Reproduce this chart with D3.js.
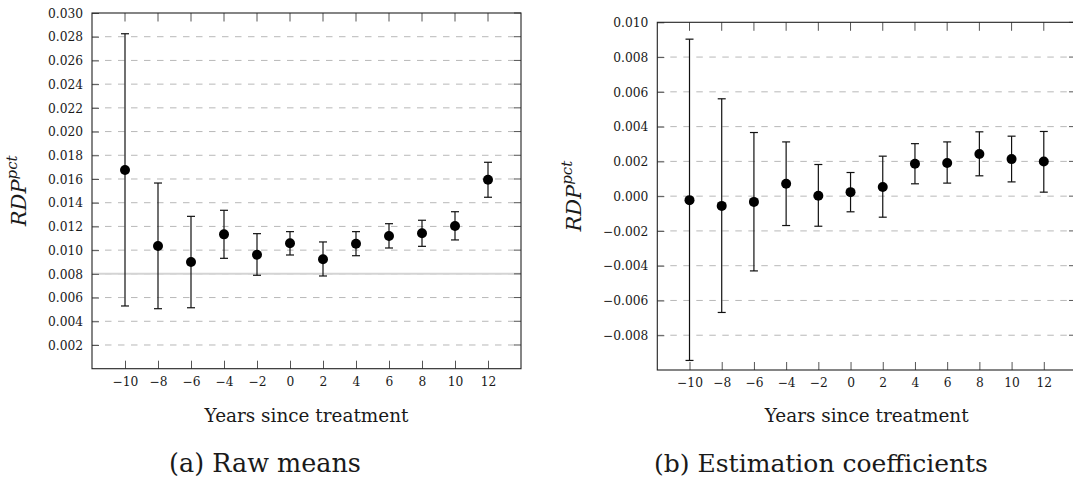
<!DOCTYPE html>
<html>
<head>
<meta charset="utf-8">
<script src="https://cdn.jsdelivr.net/npm/d3@7"></script>
<style>
	body { margin: 0; background: #fff; }
	svg { display: block; }
	text { font-family: "DejaVu Serif", "Liberation Serif", serif; fill: #1a1a1a; }
</style>
</head>
<body>
<div class="canva"></div>
<script>
// years relative to treatment
const years = [-10, -8, -6, -4, -2, 0, 2, 4, 6, 8, 10, 12];

// (a) raw means with intervals
const rawMean = [0.01676, 0.01035, 0.0090, 0.01133, 0.00961, 0.01058, 0.00923, 0.01054, 0.01119, 0.01142, 0.01204, 0.01594];
const rawLow = [0.00529, 0.00506, 0.00514, 0.00931, 0.00788, 0.00959, 0.00782, 0.00953, 0.01018, 0.01032, 0.01086, 0.01446];
const rawHigh = [0.02825, 0.01566, 0.01285, 0.01336, 0.01139, 0.01156, 0.01069, 0.01156, 0.01223, 0.01252, 0.01324, 0.01741];

// (b) estimation coefficients with intervals
const coef = [-0.00023, -0.00056, -0.00033, 0.00071, 0.00002, 0.00023, 0.00053, 0.00186, 0.00191, 0.00242, 0.00213, 0.00199];
const coefLow = [-0.00945, -0.00669, -0.0043, -0.00169, -0.00173, -0.0009, -0.00121, 0.00071, 0.00075, 0.00117, 0.00082, 0.00023];
const coefHigh = [0.00903, 0.0056, 0.00366, 0.00312, 0.00182, 0.00136, 0.0023, 0.00302, 0.00312, 0.0037, 0.00345, 0.00372];

// tick values
const rawTicks = d3.range(1, 16).map((k) => k * 0.002);
const coefTicks = d3.range(-4, 6).map((k) => k * 0.002);
const rawRef = 0.008;

const xLabel = "Years since treatment";
const captions = ["(a) Raw means", "(b) Estimation coefficients"];

const svg = d3.select(".canva")
	.append("svg")
	.attr("width", 1073)
	.attr("height", 485);

// scale a text's font size so it spans the wanted width
function fitSize(text, target) {
	const w = text.node().getComputedTextLength();
	const fs = parseFloat(text.attr("font-size"));
	text.attr("font-size", (fs * target) / w);
}

// tick font size from the width of "0.030"
const probe = svg.append("text").attr("font-size", 20).text("0.030");
fitSize(probe, 35);
const tickSize = +probe.attr("font-size");
probe.remove();

const panels = [
	{
		mean: rawMean, low: rawLow, high: rawHigh, ticks: rawTicks, yDomain: [0, 0.030],
		left: 92, right: 521, top: 13, bottom: 368.7, ref: rawRef,
		ylabX: 26, capX: 265, capW: 192
	},
	{
		mean: coef, low: coefLow, high: coefHigh, ticks: coefTicks, yDomain: [-0.010, 0.010],
		left: 657.3, right: 1076, top: 22.3, bottom: 370, ref: null,
		ylabX: 581, capX: 821, capW: 334
	}
];

const fmtY = (d) => d3.format(".3f")(d).replace("-", "\u2212");
const fmtX = (d) => (d < 0 ? "\u2212" + Math.abs(d) : String(d));

panels.forEach((p, pi) => {
	const x = d3.scaleLinear().domain([-12, 14]).range([p.left, p.right]);
	const y = d3.scaleLinear().domain(p.yDomain).range([p.bottom, p.top]);
	const g = svg.append("g");

	// dashed grid
	g.selectAll(".grid")
		.data(p.ticks.filter((t) => Math.abs(y(t) - p.top) > 1))
		.enter()
		.append("line")
		.attr("x1", p.left).attr("x2", p.right)
		.attr("y1", (d) => y(d)).attr("y2", (d) => y(d))
		.attr("stroke", "#b8b8b8")
		.attr("stroke-width", 1)
		.attr("stroke-dasharray", "6.5,6.5");

	if (p.ref !== null) {
		g.append("line")
			.attr("x1", p.left).attr("x2", p.right)
			.attr("y1", y(p.ref)).attr("y2", y(p.ref))
			.attr("stroke", "#d4d4d4")
			.attr("stroke-width", 2);
	}

	// x axis (bottom) with inward ticks
	const xAxis = d3.axisBottom(x).tickValues(years).tickSizeInner(-8).tickSizeOuter(0).tickPadding(0).tickFormat(fmtX);
	const xa = g.append("g").attr("transform", `translate(0,${p.bottom})`).call(xAxis);
	xa.select(".domain").remove();
	xa.selectAll(".tick line").attr("stroke", "#555");
	xa.selectAll(".tick text")
		.attr("y", 17).attr("dy", 0)
		.attr("font-family", null).attr("font-size", tickSize).attr("fill", null);

	// top ticks
	g.selectAll(".ttick")
		.data(years)
		.enter()
		.append("line")
		.attr("x1", (d) => x(d)).attr("x2", (d) => x(d))
		.attr("y1", p.top).attr("y2", p.top + 8.5)
		.attr("stroke", "#555");

	// y axis (left) with inward ticks
	const yAxis = d3.axisLeft(y).tickValues(p.ticks).tickSizeInner(-7).tickSizeOuter(0).tickPadding(0).tickFormat(fmtY);
	const ya = g.append("g").attr("transform", `translate(${p.left},0)`).call(yAxis);
	ya.select(".domain").remove();
	ya.selectAll(".tick line").attr("stroke", "#555");
	ya.selectAll(".tick text")
		.attr("x", -9).attr("dy", "0.35em")
		.attr("font-family", null).attr("font-size", tickSize).attr("fill", null);

	// right ticks
	g.selectAll(".rtick")
		.data(p.ticks)
		.enter()
		.append("line")
		.attr("x1", p.right - 7).attr("x2", p.right)
		.attr("y1", (d) => y(d)).attr("y2", (d) => y(d))
		.attr("stroke", "#555");

	// frame
	g.append("rect")
		.attr("x", p.left).attr("y", p.top)
		.attr("width", p.right - p.left).attr("height", p.bottom - p.top)
		.attr("fill", "none")
		.attr("stroke", "#222")
		.attr("stroke-width", 1.1);

	// error bars
	const bars = g.selectAll(".bar")
		.data(years.map((yr, i) => ({ yr, m: p.mean[i], lo: p.low[i], hi: p.high[i] })))
		.enter()
		.append("g");

	bars.append("line")
		.attr("x1", (d) => x(d.yr)).attr("x2", (d) => x(d.yr))
		.attr("y1", (d) => y(d.lo)).attr("y2", (d) => y(d.hi))
		.attr("stroke", "#111").attr("stroke-width", 1.2);
	bars.append("line")
		.attr("x1", (d) => x(d.yr) - 4).attr("x2", (d) => x(d.yr) + 4)
		.attr("y1", (d) => y(d.hi)).attr("y2", (d) => y(d.hi))
		.attr("stroke", "#111").attr("stroke-width", 1.2);
	bars.append("line")
		.attr("x1", (d) => x(d.yr) - 4).attr("x2", (d) => x(d.yr) + 4)
		.attr("y1", (d) => y(d.lo)).attr("y2", (d) => y(d.lo))
		.attr("stroke", "#111").attr("stroke-width", 1.2);
	bars.append("circle")
		.attr("cx", (d) => x(d.yr))
		.attr("cy", (d) => y(d.m))
		.attr("r", 5)
		.attr("fill", "#000");

	// x axis title
	const cx = (p.left + p.right) / 2;
	const xt = g.append("text")
		.attr("x", cx).attr("y", 421.5)
		.attr("text-anchor", "middle")
		.attr("font-size", 20)
		.text(xLabel);
	fitSize(xt, 204);

	// y axis title, italic with superscript
	const cy = (p.top + p.bottom) / 2;
	const yt = g.append("text")
		.attr("transform", `translate(${p.ylabX},${cy}) rotate(-90)`)
		.attr("text-anchor", "middle")
		.attr("font-style", "italic")
		.attr("font-size", 21);
	yt.append("tspan").text("RDP");
	yt.append("tspan").attr("dy", -9).attr("font-size", 15).text("pct");

	// caption
	const ct = svg.append("text")
		.attr("x", p.capX).attr("y", 471.5)
		.attr("text-anchor", "middle")
		.attr("font-size", 28)
		.text(captions[pi]);
	fitSize(ct, p.capW);
});
</script>
</body>
</html>
